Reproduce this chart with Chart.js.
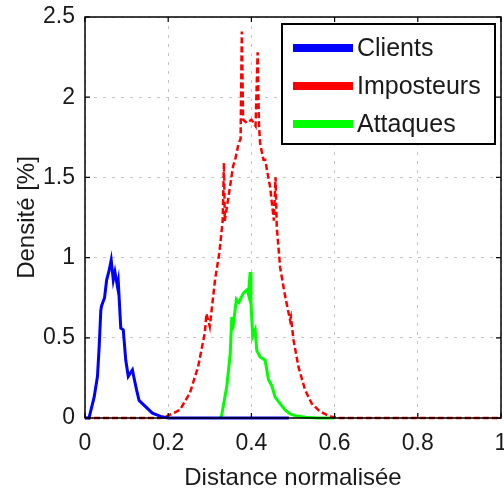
<!DOCTYPE html>
<html>
<head>
<meta charset="utf-8">
<script src="https://cdn.jsdelivr.net/npm/chart.js@4/dist/chart.umd.min.js"></script>
<style>
  html, body { margin: 0; padding: 0; background: #fff; }
  #wrap { width: 504px; height: 490px; }
</style>
</head>
<body>
<div id="wrap"><canvas id="densityChart"></canvas></div>
<script>
// series labels
const seriesNames = ['Clients', 'Imposteurs', 'Attaques'];

// Clients (blue)
const clientsX = [0, 0.0096, 0.022, 0.03, 0.034, 0.038, 0.04, 0.047, 0.052, 0.058, 0.063, 0.068, 0.072, 0.078, 0.08, 0.086, 0.092, 0.098, 0.104, 0.114, 0.117, 0.124, 0.13, 0.138, 0.15, 0.162, 0.182, 0.2, 0.49];
const clientsY = [0, 0, 0.13, 0.26, 0.44, 0.67, 0.70, 0.75, 0.86, 0.92, 0.985, 0.86, 0.91, 0.82, 0.85, 0.56, 0.55, 0.36, 0.26, 0.30, 0.26, 0.175, 0.11, 0.09, 0.06, 0.03, 0.01, 0, 0];

// Imposteurs (red, dashed)
const impostX = [0, 0.18, 0.196, 0.228, 0.252, 0.272, 0.288, 0.292, 0.3, 0.3125, 0.323, 0.331, 0.334, 0.336, 0.345, 0.356, 0.361, 0.369, 0.374, 0.377, 0.38, 0.389, 0.4, 0.41, 0.415, 0.418, 0.421, 0.429, 0.433, 0.445, 0.454, 0.458, 0.461, 0.469, 0.481, 0.493, 0.495, 0.501, 0.513, 0.529, 0.545, 0.565, 0.589, 0.61, 1];
const impostY = [0, 0, 0.01, 0.05, 0.155, 0.32, 0.53, 0.65, 0.57, 0.86, 1.03, 1.23, 1.59, 1.23, 1.38, 1.57, 1.61, 1.71, 1.74, 2.41, 1.86, 1.84, 1.86, 1.82, 2.28, 1.84, 1.71, 1.61, 1.61, 1.44, 1.23, 1.5, 1.19, 0.94, 0.76, 0.61, 0.63, 0.49, 0.32, 0.175, 0.09, 0.04, 0.01, 0, 0];

// Attaques (green)
const attX = [0.326, 0.328, 0.341, 0.349, 0.353, 0.355, 0.364, 0.37, 0.381, 0.39, 0.393, 0.397, 0.399, 0.403, 0.409, 0.413, 0.421, 0.433, 0.441, 0.449, 0.457, 0.469, 0.481, 0.493, 0.509, 0.53, 0.56, 0.6];
const attY = [0, 0.01, 0.2, 0.4, 0.63, 0.55, 0.74, 0.72, 0.78, 0.80, 0.77, 0.91, 0.72, 0.51, 0.55, 0.42, 0.38, 0.36, 0.24, 0.20, 0.13, 0.09, 0.05, 0.025, 0.012, 0.005, 0, 0];

// axis ticks
const xTicks = [0, 0.2, 0.4, 0.6, 0.8, 1];
const xTickLabels = ['0', '0.2', '0.4', '0.6', '0.8', '1'];
const yTicks = [0, 0.5, 1, 1.5, 2, 2.5];
const yTickLabels = ['0', '0.5', '1', '1.5', '2', '2.5'];

const FONT = 'Liberation Sans, Arial, sans-serif';
const TEXT = '#1a1a1a';

const toPoints = (xs, ys) => xs.map((x, i) => ({ x: x, y: ys[i] }));

// keep the axes box where the reference has it: no extra label padding
function fixScale(s, size) {
    if (s.isHorizontal()) s.height = size; else s.width = size;
    s.paddingLeft = s.paddingRight = s.paddingTop = s.paddingBottom = 0;
}

// Inward ticks on all four sides + black axes box (MATLAB style)
const axesBox = {
    id: 'axesBox',
    afterDatasetsDraw(chart) {
        const { ctx, chartArea: a, scales } = chart;
        ctx.save();
        ctx.strokeStyle = '#000';
        ctx.lineWidth = 1.5;
        ctx.strokeRect(a.left, a.top, a.right - a.left, a.bottom - a.top);
        ctx.lineWidth = 1.2;
        const len = 5;
        ctx.beginPath();
        xTicks.forEach(v => {
            const px = scales.x.getPixelForValue(v);
            ctx.moveTo(px, a.bottom); ctx.lineTo(px, a.bottom - len);
            ctx.moveTo(px, a.top); ctx.lineTo(px, a.top + len);
        });
        yTicks.forEach(v => {
            const py = scales.y.getPixelForValue(v);
            ctx.moveTo(a.left, py); ctx.lineTo(a.left + len, py);
            ctx.moveTo(a.right, py); ctx.lineTo(a.right - len, py);
        });
        ctx.stroke();
        ctx.restore();
    }
};

// Boxed legend inside the top right corner
const boxLegend = {
    id: 'boxLegend',
    afterDraw(chart) {
        const { ctx } = chart;
        const bx = 282, by = 24, bw = 213, bh = 120;
        ctx.save();
        ctx.fillStyle = '#fff';
        ctx.fillRect(bx, by, bw, bh);
        ctx.strokeStyle = '#000';
        ctx.lineWidth = 2;
        ctx.strokeRect(bx, by, bw, bh);
        ctx.font = '25px ' + FONT;
        ctx.textBaseline = 'middle';
        chart.data.datasets.forEach((ds, i) => {
            const y = by + 24 + i * 38;
            ctx.strokeStyle = ds.borderColor;
            ctx.lineWidth = 8;
            ctx.setLineDash([]);
            ctx.beginPath();
            ctx.moveTo(293, y); ctx.lineTo(353, y);
            ctx.stroke();
            ctx.fillStyle = TEXT;
            ctx.fillText(ds.label, 357, y + 1);
        });
        ctx.restore();
    }
};

const gridOpts = { color: '#c4c4c4', lineWidth: 1, drawTicks: false };

new Chart(document.getElementById('densityChart'), {
    type: 'line',
    data: {
        datasets: [
            { label: seriesNames[0], data: toPoints(clientsX, clientsY), borderColor: '#0000ff', borderWidth: 3 },
            { label: seriesNames[1], data: toPoints(impostX, impostY), borderColor: '#ff0000', borderWidth: 2.5, borderDash: [6, 3] },
            { label: seriesNames[2], data: toPoints(attX, attY), borderColor: '#00ff00', borderWidth: 3 }
        ]
    },
    options: {
        responsive: true,
        maintainAspectRatio: false,
        animation: false,
        layout: { autoPadding: false, padding: { top: 17, right: 3, left: 0, bottom: 0 } },
        elements: { point: { radius: 0 }, line: { tension: 0, fill: false } },
        datasets: { line: { clip: 4 } },
        plugins: { legend: { display: false }, tooltip: { enabled: false } },
        scales: {
            x: {
                type: 'linear', min: 0, max: 1,
                afterFit: s => fixScale(s, 72),
                afterBuildTicks: s => { s.ticks = xTicks.map(v => ({ value: v })); },
                ticks: { padding: 12, color: TEXT, font: { family: FONT, size: 23 },
                         callback: (v) => xTickLabels[xTicks.indexOf(v)] },
                grid: gridOpts,
                border: { display: false, dash: [3, 6] },
                title: { display: true, text: 'Distance normalisée', color: TEXT,
                         font: { family: FONT, size: 24, lineHeight: 1 }, padding: { top: 0, bottom: 0 } }
            },
            y: {
                type: 'linear', min: 0, max: 2.5,
                afterFit: s => fixScale(s, 85),
                afterBuildTicks: s => { s.ticks = yTicks.map(v => ({ value: v })); },
                ticks: { padding: 10, color: TEXT, font: { family: FONT, size: 23 },
                         callback: (v) => yTickLabels[yTicks.indexOf(v)] },
                grid: gridOpts,
                border: { display: false, dash: [3, 6] },
                title: { display: true, text: 'Densité [%]', color: TEXT,
                         font: { family: FONT, size: 24, lineHeight: 1 }, padding: { top: 15, bottom: 0 } }
            }
        }
    },
    plugins: [axesBox, boxLegend]
});
</script>
</body>
</html>
